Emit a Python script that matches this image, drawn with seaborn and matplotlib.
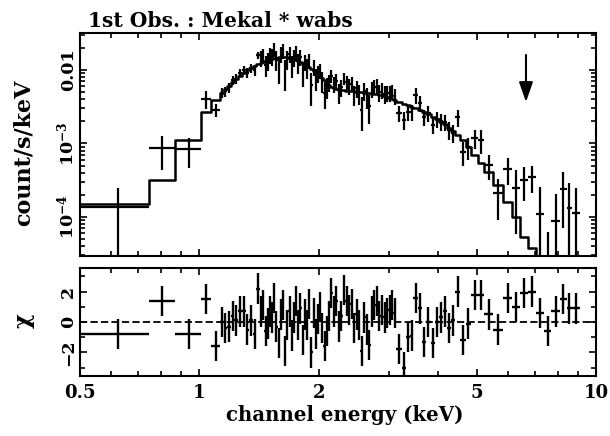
import numpy as np
import matplotlib
matplotlib.use("Agg")
import matplotlib.pyplot as plt
import seaborn as sns

# ---- spectrum: channel bin edges (keV) ----
bin_edges = [0.50, 0.746, 0.868, 1.01, 1.07, 1.127,
             1.151, 1.176, 1.201, 1.226, 1.253, 1.280, 1.307, 1.335, 1.363, 1.393, 1.422,
             1.440, 1.459, 1.477, 1.496, 1.515, 1.535, 1.554, 1.574, 1.594, 1.615,
             1.635, 1.656, 1.677, 1.699, 1.720, 1.742, 1.765, 1.787, 1.810, 1.833,
             1.857, 1.880, 1.905, 1.929, 1.954, 1.979, 2.004, 2.029, 2.055, 2.082,
             2.108, 2.135,
             2.167, 2.199, 2.231, 2.265, 2.298, 2.332, 2.367, 2.402, 2.438, 2.474,
             2.510, 2.548, 2.585, 2.624, 2.663, 2.702, 2.742, 2.783, 2.824, 2.866,
             2.909, 2.952, 2.996, 3.040, 3.085, 3.131,
             3.242, 3.328, 3.398, 3.466, 3.548, 3.642, 3.727, 3.827, 3.929, 4.019,
             4.113, 4.222, 4.321, 4.422, 4.553, 4.688, 4.840, 5.041, 5.220,
             5.500, 5.827, 6.140, 6.436, 6.739, 7.059, 7.394, 7.700, 8.118, 8.426,
             8.699, 9.117]

# observed rate (count/s/keV) and 1-sigma error per bin
rate = [1.35e-4, 8.6e-4, 8.3e-4, 4.0e-3, 2.86e-3,
        4.9e-3, 5.1e-3, 5.8e-3, 7.2e-3, 7.6e-3, 9.1e-3, 1.00e-2, 9.2e-3, 1.07e-2, 9.9e-3, 1.60e-2,
        1.438e-2, 1.582e-2, 1.174e-2, 1.345e-2, 1.604e-2, 1.515e-2, 1.910e-2, 1.382e-2,
        1.071e-2, 1.652e-2, 1.832e-2, 0.931e-2, 1.420e-2, 1.666e-2, 1.168e-2, 1.473e-2,
        1.729e-2, 1.261e-2, 1.507e-2, 0.929e-2, 1.290e-2, 1.081e-2, 1.340e-2, 0.617e-2,
        1.095e-2, 0.777e-2, 0.904e-2, 0.988e-2, 0.709e-2, 0.490e-2, 0.591e-2, 0.677e-2,
        8.37e-3, 6.51e-3, 7.14e-3, 5.01e-3, 5.80e-3, 7.72e-3, 6.86e-3, 6.11e-3, 6.51e-3,
        4.66e-3, 5.63e-3, 4.81e-3, 2.89e-3, 5.20e-3, 4.30e-3, 3.22e-3, 5.49e-3, 5.86e-3,
        6.09e-3, 4.99e-3, 5.31e-3, 4.74e-3, 4.89e-3, 4.91e-3, 5.02e-3, 4.44e-3,
        2.60e-3, 2.09e-3, 2.68e-3, 2.70e-3, 4.57e-3, 3.56e-3, 2.29e-3, 2.62e-3, 1.79e-3,
        2.15e-3, 2.00e-3, 1.96e-3, 1.53e-3, 1.40e-3, 2.29e-3, 7.7e-4, 9.0e-4, 1.19e-3, 1.12e-3,
        5.10e-4, 2.12e-4, 4.50e-4, 2.48e-4, 3.19e-4, 3.50e-4, 1.10e-4, 1.0e-5, 8.8e-5,
        2.40e-4, 1.33e-4, 1.13e-4]

rate_err = [1.1e-4, 4.2e-4, 3.6e-4, 1.1e-3, 6.0e-4,
            8e-4, 8e-4, 9e-4, 1.0e-3, 1.1e-3, 1.2e-3, 1.3e-3, 1.4e-3, 1.5e-3, 1.6e-3, 1.8e-3,
            3.5e-3, 3.6e-3, 3.7e-3, 3.8e-3, 3.9e-3, 4.0e-3, 4.0e-3, 4.1e-3,
            4.2e-3, 4.2e-3, 4.2e-3, 4.2e-3, 4.1e-3, 4.1e-3, 4.0e-3, 3.9e-3,
            3.8e-3, 3.7e-3, 3.6e-3, 3.4e-3, 3.3e-3, 3.2e-3, 3.0e-3, 2.9e-3,
            2.7e-3, 2.6e-3, 2.4e-3, 2.3e-3, 2.2e-3, 2.0e-3, 1.9e-3, 1.75e-3,
            1.69e-3, 1.61e-3, 1.56e-3, 1.53e-3, 1.52e-3, 1.51e-3, 1.50e-3, 1.48e-3, 1.47e-3,
            1.47e-3, 1.44e-3, 1.44e-3, 1.42e-3, 1.39e-3, 1.38e-3, 1.38e-3, 1.37e-3, 1.35e-3,
            1.33e-3, 1.31e-3, 1.29e-3, 1.27e-3, 1.24e-3, 1.20e-3, 1.16e-3, 1.12e-3,
            6.5e-4, 5.5e-4, 6.6e-4, 6.6e-4, 1.10e-3, 8.5e-4, 5.8e-4, 6.4e-4, 4.6e-4,
            5.4e-4, 5.0e-4, 4.9e-4, 4.0e-4, 3.7e-4, 6.0e-4, 2.8e-4, 3.0e-4, 3.5e-4, 4.0e-4,
            1.9e-4, 1.2e-4, 1.8e-4, 1.9e-4, 1.55e-4, 1.4e-4, 1.46e-4, 5.25e-5, 1.2e-4,
            1.69e-4, 1.57e-4, 1.36e-4]

# folded Mekal * wabs model (count/s/keV) per bin
model_rate = [1.5e-4, 3.2e-4, 1.12e-3, 2.7e-3, 3.9e-3,
              4.87e-3, 5.43e-3, 6.06e-3, 6.80e-3, 7.54e-3, 8.29e-3, 9.10e-3, 9.85e-3,
              1.048e-2, 1.123e-2, 1.207e-2,
              1.261e-2, 1.297e-2, 1.334e-2, 1.372e-2, 1.407e-2, 1.429e-2, 1.447e-2, 1.470e-2,
              1.488e-2, 1.502e-2, 1.502e-2, 1.502e-2, 1.479e-2, 1.461e-2, 1.424e-2, 1.390e-2,
              1.351e-2, 1.314e-2, 1.277e-2, 1.222e-2, 1.173e-2, 1.126e-2, 1.081e-2, 1.029e-2,
              0.978e-2, 0.925e-2, 0.869e-2, 0.823e-2, 0.771e-2, 0.720e-2, 0.672e-2, 0.627e-2,
              5.905e-3, 5.637e-3, 5.462e-3, 5.361e-3, 5.328e-3, 5.278e-3, 5.245e-3, 5.196e-3,
              5.147e-3, 5.115e-3, 5.068e-3, 5.035e-3, 4.973e-3, 4.880e-3, 4.835e-3, 4.804e-3,
              4.760e-3, 4.715e-3, 4.656e-3, 4.584e-3, 4.513e-3, 4.443e-3, 4.320e-3, 4.173e-3,
              4.045e-3, 3.920e-3,
              3.716e-3, 3.478e-3, 3.310e-3, 3.167e-3, 3.021e-3, 2.865e-3, 2.716e-3, 2.519e-3,
              2.323e-3, 2.141e-3, 1.986e-3, 1.831e-3, 1.646e-3, 1.489e-3, 1.305e-3, 1.116e-3,
              8.91e-4, 6.89e-4, 5.43e-4,
              4.09e-4, 2.72e-4, 1.60e-4, 1.0e-4, 5.34e-5, 3.79e-5, 2.2e-5, 1.6e-5, 1.2e-5,
              9e-6, 7e-6, 5e-6]

# residuals in units of sigma
chi = [-0.8, 1.4, -0.8, 1.5, -1.6,
       0.0, -0.4, -0.3, 0.4, 0.1, 0.7, 0.7, -0.5, 0.1, -0.8, 2.2,
       0.7, 1.1, -0.6, -0.1, 0.7, 0.3, 1.6, -0.3, -1.4, 0.5, 1.1, -1.9, -0.2, 0.7, -0.9, 0.3,
       1.4, -0.2, 0.9, -1.2, 0.5, -0.2, 1.2, -2.0, 0.6, -0.8, 0.2, 1.0, -0.4, -1.6, -0.6, 0.4,
       1.9, 0.7, 1.4, -0.3, 0.4, 2.1, 1.4, 0.8, 1.2, -0.4, 0.5, -0.2, -1.9, 0.3, -0.5, -1.5,
       0.7, 1.1, 1.4, 0.4, 0.8, 0.3, 0.6, 0.8, 1.1, 0.6,
       -1.8, -3.0, -1.0, -0.9, 1.6, 0.9, -1.3, 0.0, -1.4, 0.0, 0.3, 0.7, -0.4, 0.1, 2.0,
       -1.2, -0.1, 1.8, 1.8,
       0.5, -0.5, 1.6, 1.0, 1.9, 2.0, 0.6, -0.6, 0.7, 1.5, 0.9, 0.9]

x_tick_values = [0.5, 1, 2, 5, 10]
x_tick_labels = ["0.5", "1", "2", "5", "10"]
fe_line_kev = 6.66
title_text = "1st Obs. : Mekal * wabs"

# ---- styling ----
sns.set_theme(style="ticks")
plt.rcParams["font.family"] = ["DejaVu Serif"]
plt.rcParams["font.weight"] = "bold"
plt.rcParams["mathtext.fontset"] = "dejavuserif"
plt.rcParams["mathtext.default"] = "bf"
plt.rcParams["axes.linewidth"] = 1.5
for key in ("text.color", "axes.labelcolor", "xtick.color", "ytick.color",
            "axes.edgecolor"):
    plt.rcParams[key] = "black"

edges = np.asarray(bin_edges)
centers = 0.5 * (edges[:-1] + edges[1:])
half_w = 0.5 * (edges[1:] - edges[:-1])

W, H = 610, 436
fig = plt.figure(figsize=(W / 100, H / 100), dpi=100)
ax1 = fig.add_axes([80 / W, 1 - 256 / H, 516 / W, 223 / H])
ax2 = fig.add_axes([80 / W, 1 - 376 / H, 516 / W, 108 / H])

for ax in (ax1, ax2):
    ax.set_xscale("log")
ax1.set_yscale("log")

# upper panel: data crosses and stepped model
ax1.errorbar(centers, rate, xerr=half_w, yerr=rate_err, fmt="none",
             ecolor="black", elinewidth=1.6, capsize=0)
sns.lineplot(x=list(edges), y=list(model_rate) + [model_rate[-1]],
             drawstyle="steps-post", estimator=None, sort=False,
             color="black", linewidth=1.8, ax=ax1)
ax1.annotate("", xy=(fe_line_kev, 3.67e-3), xytext=(fe_line_kev, 1.6e-2),
             arrowprops=dict(arrowstyle="-|>,head_length=0.8,head_width=0.28",
                             mutation_scale=15, color="black", lw=1.5,
                             shrinkA=0, shrinkB=0))

# lower panel: residuals
ax2.errorbar(centers, chi, xerr=half_w, yerr=np.ones(len(chi)), fmt="none",
             ecolor="black", elinewidth=1.7, capsize=0)
ax2.axhline(0, color="black", linewidth=1.3, linestyle=(0, (4, 1.8)))

ax1.set_xlim(0.5, 10)
ax2.set_xlim(0.5, 10)
ax1.set_ylim(2.95e-5, 3.18e-2)
ax2.set_ylim(-3.56, 3.56)

# ticks
minor_x = [0.6, 0.7, 0.8, 0.9, 3, 4, 6, 7, 8, 9]
for ax in (ax1, ax2):
    ax.set_xticks(x_tick_values)
    ax.set_xticks(minor_x, minor=True)
    ax.tick_params(which="both", direction="in", top=True, right=True,
                   width=1.2, color="black", labelcolor="black", labelsize=13)
    ax.tick_params(which="major", length=5)
    ax.tick_params(which="minor", length=3.5)
    ax.xaxis.set_minor_formatter(matplotlib.ticker.NullFormatter())
ax1.set_xticklabels([])
ax2.set_xticklabels(x_tick_labels)
ax2.tick_params(axis="x", pad=6)

ax1.set_yticks([1e-4, 1e-3, 1e-2])
ax1.set_yticklabels([r"$10^{-4}$", r"$10^{-3}$", "0.01"])
ax1.yaxis.set_minor_locator(matplotlib.ticker.LogLocator(base=10, subs=np.arange(2, 10)))
ax1.yaxis.set_minor_formatter(matplotlib.ticker.NullFormatter())
ax2.set_yticks([-2, 0, 2])
ax2.set_yticklabels(["\u22122", "0", "2"])
ax2.set_yticks([-3, -1, 1, 3], minor=True)
for ax in (ax1, ax2):
    ax.tick_params(axis="y", pad=2, labelsize=12.5)
    for lab in ax.get_yticklabels():
        lab.set_rotation(90)
        lab.set_va("center")

for ax in (ax1, ax2):
    ax.set_xlabel("")
    ax.set_ylabel("")

fig.text(88 / W, 1 - 27 / H, title_text, fontsize=14.6, fontweight="bold",
         ha="left", va="baseline")
fig.text(24 / W, 1 - 153 / H, "count/s/keV", fontsize=16, fontweight="bold",
         rotation=90, ha="center", va="center")
fig.text(24 / W, 1 - 321 / H, "\u03c7", fontsize=16, fontweight="bold",
         rotation=90, ha="center", va="center")
fig.text(345 / W, 1 - 415 / H, "channel energy (keV)", fontsize=14.2,
         fontweight="bold", ha="center", va="center")

fig.savefig("out.png", dpi=100, facecolor="white")
